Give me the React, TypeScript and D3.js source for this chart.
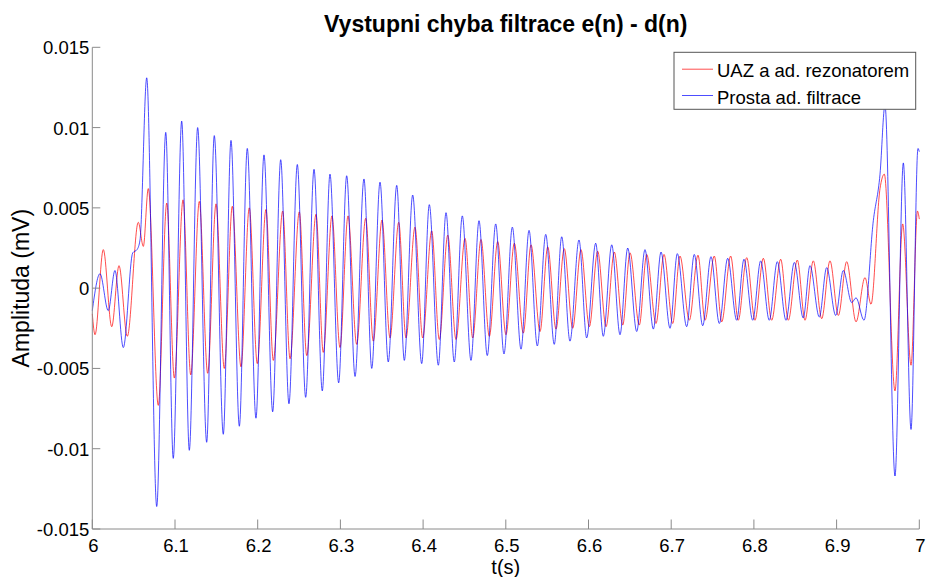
import React, { useEffect } from "react";
import * as d3 from "d3";

// ---- data (t in s, amplitude in mV) ----
const xTicks = [6, 6.1, 6.2, 6.3, 6.4, 6.5, 6.6, 6.7, 6.8, 6.9, 7];
const xTickLabels = ["6", "6.1", "6.2", "6.3", "6.4", "6.5", "6.6", "6.7", "6.8", "6.9", "7"];
const yTicks = [-0.015, -0.01, -0.005, 0, 0.005, 0.01, 0.015];
const yTickLabels = ["-0.015", "-0.01", "-0.005", "0", "0.005", "0.01", "0.015"];

const seriesNames = ["UAZ a ad. rezonatorem", "Prosta ad. filtrace"];
const seriesColors = ["#ff0000", "#0000ff"];

// red series: local extremes [t, value]
const uazPoints: [number, number][] = [
  [6.0, -0.0016], [6.0033, -0.0029], [6.0133, 0.0024], [6.0235, -0.0024], [6.0323, 0.0014],
  [6.0423, -0.003], [6.0556, 0.0041], [6.0617, 0.0026], [6.0677, 0.0062], [6.0798, -0.0073],
  [6.09, 0.0053], [6.0992, -0.0056], [6.1097, 0.0055], [6.119, -0.0054], [6.1294, 0.0054],
  [6.1395, -0.0053], [6.1496, 0.00525], [6.1596, -0.005], [6.1693, 0.0051], [6.1798, -0.0049],
  [6.1898, 0.005], [6.1995, -0.0047], [6.21, 0.0049], [6.2189, -0.0045], [6.2302, 0.0048],
  [6.2391, -0.0044], [6.2503, 0.00475], [6.2593, -0.0042], [6.2705, 0.0046], [6.2793, -0.004],
  [6.2898, 0.0045], [6.2995, -0.0037], [6.3092, 0.0045], [6.3197, -0.0035], [6.3306, 0.00435],
  [6.3398, -0.0033], [6.3503, 0.00424], [6.36, -0.0031], [6.3705, 0.0041], [6.3793, -0.0031],
  [6.3902, 0.0038], [6.3995, -0.0031], [6.4104, 0.00356], [6.4196, -0.0032], [6.4298, 0.0033],
  [6.4398, -0.0032], [6.4507, 0.0031], [6.46, -0.0031], [6.47, 0.00303], [6.4801, -0.003],
  [6.4902, 0.0029], [6.5002, -0.0029], [6.5103, 0.0028], [6.5212, -0.0028], [6.5305, 0.0027],
  [6.5414, -0.0027], [6.5507, 0.00257], [6.5607, -0.00255], [6.5707, 0.00246], [6.5809, -0.0025],
  [6.5909, 0.0024], [6.601, -0.0024], [6.6111, 0.0023], [6.6212, -0.0024], [6.6312, 0.00225],
  [6.6414, -0.0023], [6.6502, 0.0022], [6.6614, -0.0023], [6.6704, 0.0021], [6.6816, -0.0022],
  [6.6913, 0.0021], [6.7018, -0.0022], [6.7106, 0.002], [6.7219, -0.002], [6.7324, 0.00205],
  [6.7409, -0.002], [6.7521, 0.002], [6.7611, -0.0021], [6.7719, 0.002], [6.7811, -0.002],
  [6.7913, 0.0019], [6.8013, -0.002], [6.8114, 0.00186], [6.8215, -0.002], [6.8324, 0.0018],
  [6.8416, -0.002], [6.8525, 0.00175], [6.8618, -0.002], [6.8718, 0.0017], [6.882, -0.0019],
  [6.892, 0.0017], [6.9021, -0.0017], [6.9122, 0.00165], [6.9235, -0.0021], [6.9343, 0.00066],
  [6.9416, -0.001], [6.9525, 0.0062], [6.9577, 0.0071], [6.9706, -0.0064], [6.9799, 0.004],
  [6.99, -0.0048], [6.9978, 0.0048], [7.0, 0.0043],
];

// blue series: local extremes [t, value]
const prostaPoints: [number, number][] = [
  [6.0, -0.0014], [6.0093, 0.0009], [6.0193, -0.0014], [6.0274, 0.0011], [6.0375, -0.0037],
  [6.0489, 0.0022], [6.0541, 0.0024], [6.0577, 0.003], [6.0658, 0.0131], [6.0779, -0.0136],
  [6.0888, 0.0097], [6.0979, -0.0106], [6.1081, 0.0104], [6.1173, -0.0101], [6.1274, 0.01],
  [6.1383, -0.0096], [6.1475, 0.0095], [6.1584, -0.0091], [6.1677, 0.0092], [6.1778, -0.0086],
  [6.1874, 0.0087], [6.1979, -0.0081], [6.2076, 0.0083], [6.2181, -0.0077], [6.2278, 0.008],
  [6.2378, -0.0072], [6.2479, 0.0077], [6.258, -0.0068], [6.2681, 0.0074], [6.2781, -0.0064],
  [6.2874, 0.0071], [6.2979, -0.0059], [6.3076, 0.007], [6.3177, -0.0055], [6.3285, 0.0068],
  [6.3379, -0.005], [6.3479, 0.0066], [6.3579, -0.0046], [6.3681, 0.0064], [6.3773, -0.0045],
  [6.3874, 0.0058], [6.3983, -0.0047], [6.4075, 0.0052], [6.4184, -0.0048], [6.4277, 0.0047],
  [6.4377, -0.0046], [6.4474, 0.0045], [6.4579, -0.0045], [6.4676, 0.0042], [6.4776, -0.0042],
  [6.4878, 0.004], [6.4978, -0.0041], [6.5079, 0.0038], [6.5184, -0.0038], [6.5281, 0.0036],
  [6.5381, -0.0036], [6.5483, 0.00335], [6.5586, -0.0035], [6.5676, 0.0032], [6.5776, -0.0033],
  [6.5885, 0.003], [6.5978, -0.0031], [6.6087, 0.0028], [6.6179, -0.003], [6.6281, 0.0027],
  [6.6381, -0.0029], [6.6474, 0.0025], [6.6583, -0.0027], [6.6683, 0.0024], [6.6784, -0.00255],
  [6.6877, 0.00225], [6.6986, -0.0025], [6.7074, 0.00215], [6.7187, -0.0024], [6.7279, 0.0021],
  [6.7381, -0.00234], [6.7481, 0.00196], [6.7582, -0.0022], [6.7683, 0.00186], [6.7792, -0.002],
  [6.788, 0.0018], [6.7986, -0.002], [6.8082, 0.0017], [6.8186, -0.002], [6.8283, 0.00165],
  [6.8388, -0.002], [6.8489, 0.0016], [6.8597, -0.00186], [6.8678, 0.0014], [6.8791, -0.0018],
  [6.888, 0.00128], [6.8989, -0.0017], [6.9081, 0.0011], [6.9183, -0.0009], [6.9235, -0.0006],
  [6.9331, -0.002], [6.9444, 0.0042], [6.9525, 0.0071], [6.9585, 0.0114], [6.9706, -0.0117],
  [6.9807, 0.0078], [6.99, -0.0088], [6.9984, 0.0087], [7.0, 0.0085],
];

const seriesData = [uazPoints, prostaPoints];

const W = 926;
const H = 577;
const margin = { left: 92.3, right: 926 - 919.3, top: 47.3, bottom: 577 - 529 };

export default function App() {
  useEffect(() => {
    document.body.style.margin = "0";
  }, []);

  const x = d3.scaleLinear().domain([6, 7]).range([margin.left, W - margin.right]);
  const y = d3.scaleLinear().domain([-0.015, 0.015]).range([H - margin.bottom, margin.top]);

  const line = d3
    .line<[number, number]>()
    .x((d) => x(d[0]))
    .y((d) => y(d[1]))
    .curve(d3.curveMonotoneX);

  const axisColor = "#8a8a8a";
  const font = "'Liberation Sans', Arial, Helvetica, sans-serif";
  const x0 = x(6);
  const x1 = x(7);
  const yb = y(-0.015);
  const yt = y(0.015);

  const legend = { x: 674, y: 52.3, w: 241.7, h: 57 };

  return (
    <svg
      width={W}
      height={H}
      style={{ position: "absolute", left: 0, top: 0, background: "#fff" }}
      fontFamily={font}
    >
      <rect x={0} y={0} width={W} height={H} fill="#fff" />
      {/* title */}
      <text x={(x0 + x1) / 2} y={31.5} textAnchor="middle" fontWeight="bold" fontSize={23} fill="#000">
        Vystupni chyba filtrace e(n) - d(n)
      </text>

      {/* series */}
      {seriesData.map((pts, i) => (
        <path
          key={i}
          d={line(pts) || ""}
          fill="none"
          stroke={seriesColors[i]}
          strokeWidth={0.9}
          strokeOpacity={0.78}
        />
      ))}

      {/* axes */}
      <line x1={x0} x2={x0} y1={yt} y2={yb} stroke={axisColor} strokeWidth={1} />
      <line x1={x0} x2={x1} y1={yb} y2={yb} stroke={axisColor} strokeWidth={1} />
      {yTicks.map((t, i) => (
        <g key={"y" + i}>
          <line x1={x0} x2={x0 + 8} y1={y(t)} y2={y(t)} stroke={axisColor} strokeWidth={1} />
          <text x={x0 - 3} y={y(t) + 7} textAnchor="end" fontSize={18.5} fill="#000">
            {yTickLabels[i]}
          </text>
        </g>
      ))}
      {xTicks.map((t, i) => (
        <g key={"x" + i}>
          <line x1={x(t)} x2={x(t)} y1={yb} y2={yb - 9.5} stroke={axisColor} strokeWidth={1} />
          <text x={x(t) + 1} y={551.5} textAnchor="middle" fontSize={18.5} fill="#000">
            {xTickLabels[i]}
          </text>
        </g>
      ))}

      {/* axis labels */}
      <text x={(x0 + x1) / 2} y={574} textAnchor="middle" fontSize={20} fill="#000">
        t(s)
      </text>
      <text
        transform={`translate(28.5, ${(yt + yb) / 2}) rotate(-90)`}
        textAnchor="middle"
        fontSize={23}
        fill="#000"
      >
        Amplituda (mV)
      </text>

      {/* legend */}
      <rect x={legend.x} y={legend.y} width={legend.w} height={legend.h} fill="#fff" stroke="#555" strokeWidth={1} />
      {seriesNames.map((name, i) => {
        const ly = i === 0 ? 69.2 : 95.5;
        const ty = i === 0 ? 76.5 : 104;
        return (
          <g key={"l" + i}>
            <line x1={682} x2={713} y1={ly} y2={ly} stroke={seriesColors[i]} strokeWidth={0.9} strokeOpacity={0.78} />
            <text x={717} y={ty} fontSize={18.5} fill="#000">
              {name}
            </text>
          </g>
        );
      })}
    </svg>
  );
}
